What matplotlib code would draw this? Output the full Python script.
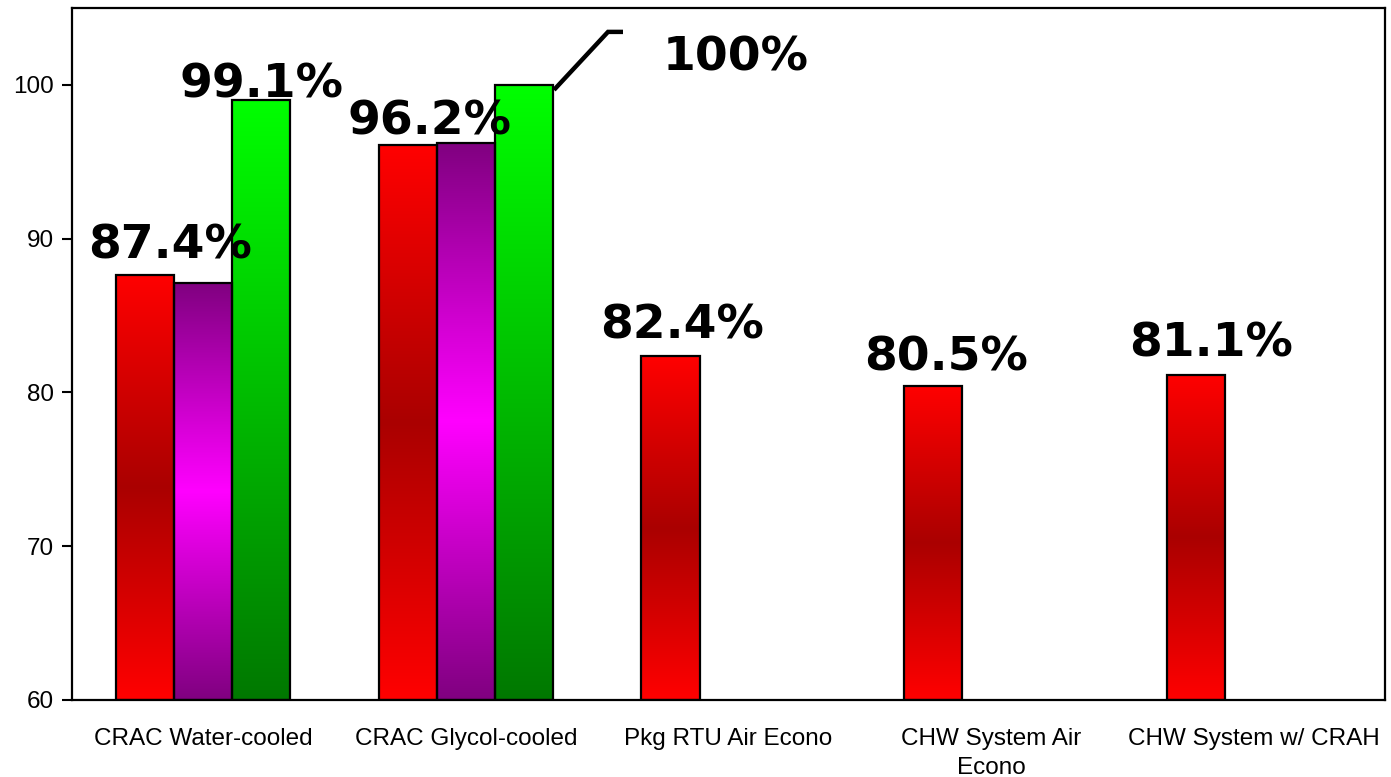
import numpy as np
import matplotlib
matplotlib.use("Agg")
import matplotlib.pyplot as plt
from matplotlib.colors import LinearSegmentedColormap

# Data
categories = ["CRAC Water-cooled", "CRAC Glycol-cooled", "Pkg RTU Air Econo",
              "CHW System Air\nEcono", "CHW System w/ CRAH"]
series_red = [87.66, 96.08, 82.35, 80.45, 81.15]
series_purple = [87.14, 96.23, np.nan, np.nan, np.nan]
series_green = [99.05, 100.0, np.nan, np.nan, np.nan]

label_texts = ["87.4%", "99.1%", "96.2%", "100%", "82.4%", "80.5%", "81.1%"]
# (series index, category index) each label belongs to
label_owner = [(0, 0), (2, 0), (1, 1), (2, 1), (0, 2), (0, 3), (0, 4)]

yticks = [60, 70, 80, 90, 100]

fig = plt.figure(figsize=(13.91, 7.77), dpi=100)
ax = fig.add_axes([0.0518, 0.0991, 0.9439, 0.8906])
ax.set_xlim(-0.5, 4.5)
ax.set_ylim(60, 105)

# Gradient colormaps (top -> bottom)
cmap_red = LinearSegmentedColormap.from_list(
    "red_band", [(0, "#ff0000"), (0.5, "#aa0000"), (1, "#ff0000")])
cmap_purple = LinearSegmentedColormap.from_list(
    "purple_band", [(0, "#800080"), (0.5, "#ff00ff"), (1, "#800080")])
cmap_green = LinearSegmentedColormap.from_list(
    "green_fade", [(0, "#00ff00"), (1, "#007800")])

width = 0.221
offsets = [-width, 0.0, width]
all_series = [series_red, series_purple, series_green]
cmaps = [cmap_red, cmap_purple, cmap_green]
x = np.arange(len(categories))

grad = np.linspace(0, 1, 256).reshape(-1, 1)
bars_by_series = []
for vals, off, cm in zip(all_series, offsets, cmaps):
    bars = ax.bar(x + off, np.array(vals) - 60, width=width, bottom=60,
                  facecolor="none", edgecolor="black", linewidth=1.6, zorder=3)
    bars_by_series.append(bars)
    for b, v in zip(bars, vals):
        if np.isnan(v):
            continue
        x0 = b.get_x()
        im = ax.imshow(grad, cmap=cm, aspect="auto", origin="upper",
                       extent=[x0, x0 + width, 60, v], zorder=2,
                       interpolation="bilinear")
        im.set_clip_path(b)
ax.set_xlim(-0.5, 4.5)
ax.set_ylim(60, 105)

# Value labels: baseline offset in pixels from the top centre of the owning bar
label_offsets = [(25, 16), (0, 2), (-36, 8), (212, 14), (12, 18), (13, 15), (15, 18)]
for txt, (si, ci), (dx, dy) in zip(label_texts, label_owner, label_offsets):
    b = bars_by_series[si][ci]
    top = all_series[si][ci]
    ax.annotate(txt, (b.get_x() + width / 2, top), xytext=(dx * 0.72, dy * 0.72),
                textcoords="offset points", ha="center", va="baseline",
                fontsize=34, fontweight="bold", family="DejaVu Sans", zorder=5,
                annotation_clip=False)

# Leader line from the glycol green bar to its label
gb = bars_by_series[2][1]
gx = gb.get_x() + width
gy = series_green[1]
p0 = ax.transData.transform((gx, gy))
pts = np.array([p0 + [1, -5], p0 + [55, 53], p0 + [70, 53]])
ax.plot(*ax.transData.inverted().transform(pts).T, color="black", lw=3.2,
        solid_capstyle="butt", solid_joinstyle="miter", clip_on=False, zorder=4)

ax.set_xticks(x)
ax.set_xticklabels(categories, family="Liberation Sans", fontsize=17.5,
                   linespacing=1.45)
ax.tick_params(axis="x", length=0, pad=20)
ax.set_yticks(yticks)
ax.set_yticklabels([str(t) for t in yticks], family="Liberation Sans", fontsize=17.5)
ax.tick_params(axis="y", length=7, width=1.5, pad=6, direction="out")
for s in ax.spines.values():
    s.set_linewidth(1.6)
    s.set_color("black")

fig.savefig("out.png", dpi=100)
